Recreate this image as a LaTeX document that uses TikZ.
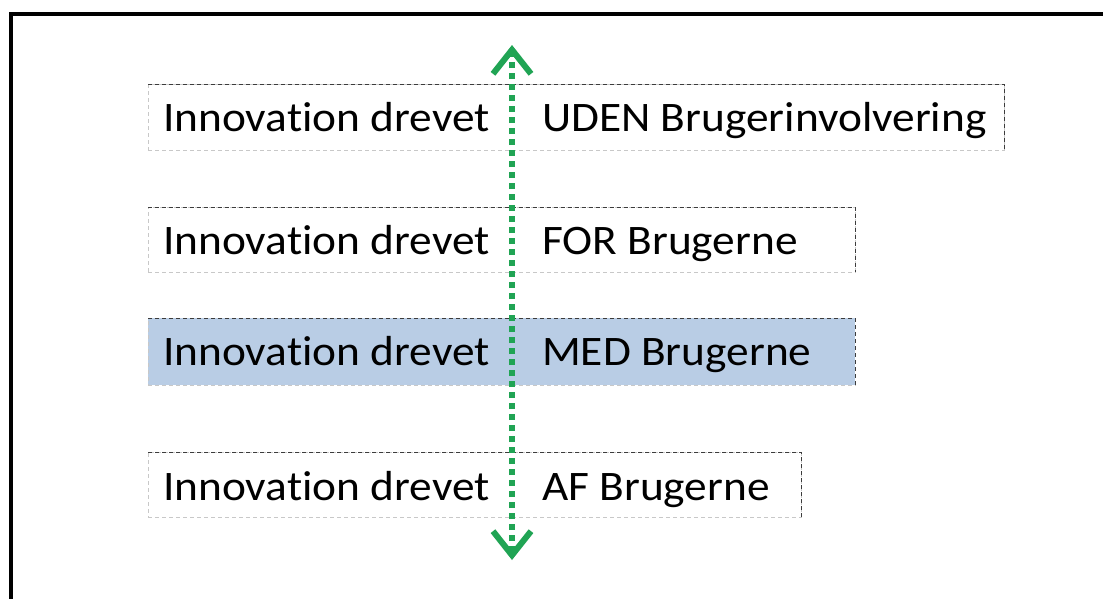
\documentclass[tikz,border=0pt]{standalone}
\usepackage{fontspec}
\setmainfont[FakeStretch=1.08,Ligatures=NoCommon]{Carlito}
\usetikzlibrary{arrows.meta}
\definecolor{arrowgreen}{RGB}{32,164,84}
\definecolor{rowblue}{RGB}{185,205,229}
\definecolor{darkdash}{RGB}{60,60,60}
\definecolor{lightdash}{RGB}{200,200,200}
\tikzset{
  rowbox/.style={draw=lightdash, dashed, line width=0.8pt, dash pattern=on 4pt off 3pt, anchor=north west, inner sep=0pt, outer sep=0pt},
  darkedge/.style={draw=darkdash, line width=1pt, dash pattern=on 4pt off 3pt},
  lbl/.style={anchor=base west, inner sep=0pt, font=\fontsize{42}{50}\selectfont, text=black},
  frameline/.style={line width=4.5pt, draw=black},
  updown/.style={draw=arrowgreen, line width=6pt, dash pattern=on 6pt off 5pt,
    {Straight Barb[length=24pt,width=38pt,line width=6pt]}-{Straight Barb[length=24pt,width=38pt,line width=6pt]}}
}
\begin{document}
\begin{tikzpicture}[x=1pt,y=-1pt]
\useasboundingbox (0,0) rectangle (1103,598);
\fill[white] (0,0) rectangle (1103,598);
% frame
\coordinate (fbl) at (11,620);
\coordinate (ftl) at (11,14);
\coordinate (ftr) at (1120,14);
\begin{scope}
\clip (0,0) rectangle (1103,598);
\draw[frameline] (fbl) -- (ftl) -- (ftr);
\end{scope}
% boxes
\node[rowbox, minimum width=856pt, minimum height=66pt] (b1) at (148,84) {};
\node[rowbox, minimum width=707pt, minimum height=65pt] (b2) at (148,207) {};
\node[rowbox, fill=rowblue, minimum width=707pt, minimum height=67pt] (b3) at (148,318) {};
\node[rowbox, minimum width=653pt, minimum height=65pt] (b4) at (148,452) {};
\foreach \b in {b1,b2,b3,b4}{
  \draw[darkedge] (\b.north west) -- (\b.north east) -- (\b.south east);
}
% labels
\node[lbl] (l1) at (163,131) {Innovation drevet};
\node[lbl] (r1) at (542,131) {UDEN Brugerinvolvering};
\node[lbl] (l2) at (163,254) {Innovation drevet};
\node[lbl] (r2) at (542,254) {FOR Brugerne};
\node[lbl] (l3) at (163,365) {Innovation drevet};
\node[lbl] (r3) at (542,365) {MED Brugerne};
\node[lbl] (l4) at (163,500) {Innovation drevet};
\node[lbl] (r4) at (542,500) {AF Brugerne};
% arrow
\coordinate (atop) at (512,45);
\coordinate (abot) at (512,560);
\draw[updown] (abot) -- (atop);
\end{tikzpicture}
\end{document}
